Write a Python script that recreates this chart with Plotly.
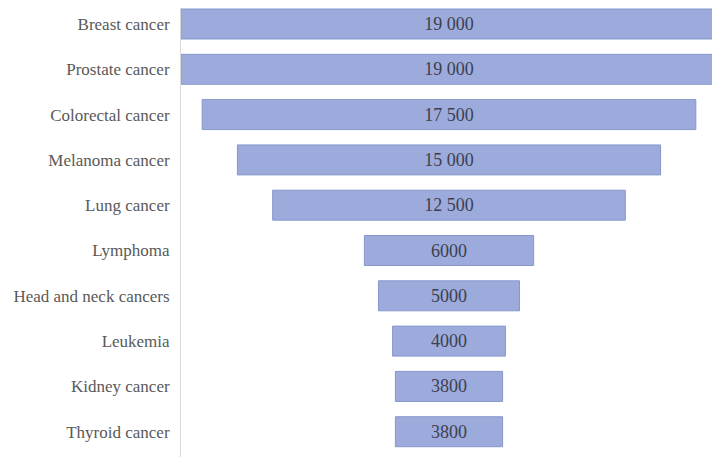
import plotly.graph_objects as go

categories = ["Breast cancer", "Prostate cancer", "Colorectal cancer", "Melanoma cancer",
              "Lung cancer", "Lymphoma", "Head and neck cancers", "Leukemia",
              "Kidney cancer", "Thyroid cancer"]
values = [19000, 19000, 17500, 15000, 12500, 6000, 5000, 4000, 3800, 3800]


def fmt(v):
    return f"{v:,}".replace(",", " ") if v >= 10000 else str(v)


labels = [fmt(v) for v in values]

fig = go.Figure(go.Funnel(
    y=categories,
    x=values,
    text=labels,
    textinfo="text",
    textposition="inside",
    insidetextanchor="middle",
    textfont=dict(family="Liberation Serif", size=18, color="#3d3f4f"),
    marker=dict(color="#9cabdc", line=dict(color="#8797cc", width=1)),
    connector=dict(visible=False),
    hoverinfo="skip",
))

fig.update_layout(
    width=704, height=449,
    margin=dict(l=173, r=0, t=0, b=0, autoexpand=False),
    paper_bgcolor="white",
    plot_bgcolor="white",
    funnelgap=0.338,
    showlegend=False,
    font=dict(family="Liberation Serif", size=17, color="#595959"),
)
fig.update_xaxes(visible=False, range=[-9500, 9323], automargin=False)
fig.update_yaxes(showline=True, linecolor="#d9d9d9", linewidth=1, ticks="",
                 ticklabelstandoff=7, showgrid=False, autorange=False,
                 automargin=False, range=[9.558, -0.353],
                 tickfont=dict(family="Liberation Serif", size=17, color="#595959"))

fig.write_html("out.html")
